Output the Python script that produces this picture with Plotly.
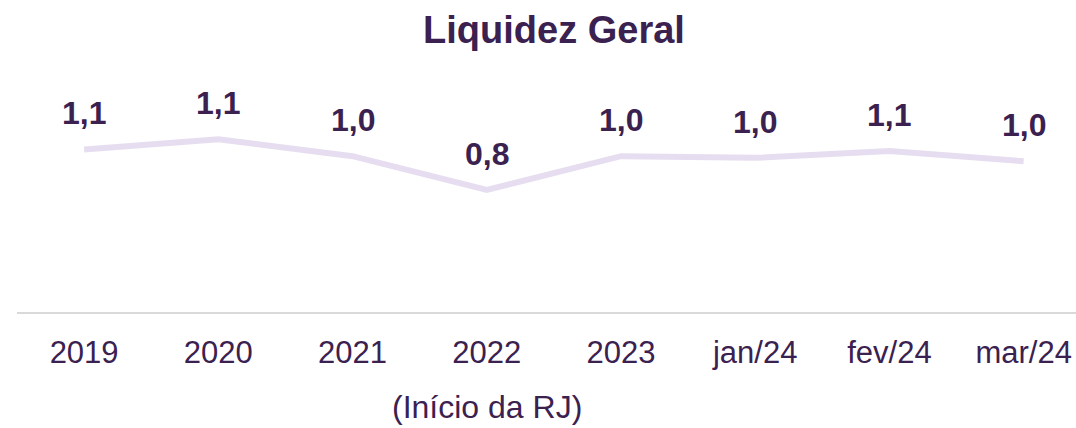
import plotly.graph_objects as go

categories = ["2019", "2020", "2021", "2022", "2023", "jan/24", "fev/24", "mar/24"]
values = [1.08, 1.14, 1.04, 0.84, 1.04, 1.03, 1.07, 1.01]
title_text = "Liquidez Geral"
note_text = "(Início da RJ)"
note_category = "2022"

PURPLE = "#3B2150"
LINE = "#E6DEF0"

fig = go.Figure()
fig.add_trace(go.Scatter(
    x=list(range(len(categories))), y=values, mode="lines",
    line=dict(color=LINE, width=6), hoverinfo="skip"))

for i, v in enumerate(values):
    fig.add_annotation(
        x=i, y=v, xref="x", yref="y", yshift=36, showarrow=False,
        text=f"{v:.1f}".replace(".", ","),
        font=dict(family="Liberation Sans, Arial", size=32, color=PURPLE, weight="bold"),
        yanchor="middle", xanchor="center")

fig.add_annotation(
    x=categories.index(note_category), y=-(407 - 312) / 252, xref="x", yref="paper",
    showarrow=False, text=note_text,
    font=dict(family="Liberation Sans, Arial", size=32, color=PURPLE),
    yanchor="middle", xanchor="center")

fig.update_layout(
    width=1076, height=428,
    margin=dict(l=17, r=0, t=60, b=116),
    paper_bgcolor="white", plot_bgcolor="white",
    showlegend=False,
    title=dict(text=title_text, x=554 / 1076, xref="container", xanchor="center",
               y=1 - 30 / 428, yref="container", yanchor="middle",
               font=dict(family="Liberation Sans, Arial", size=38, color=PURPLE, weight="bold")),
    xaxis=dict(tickmode="array", tickvals=list(range(len(categories))), ticktext=categories,
               range=[-0.5, 7.39], showgrid=False, zeroline=False,
               showline=True, linecolor="#D9D9D9", linewidth=2,
               ticks="", ticklabelstandoff=12,
               tickfont=dict(family="Liberation Sans, Arial", size=31, color=PURPLE)),
    yaxis=dict(range=[0.118, 1.609], visible=False, showgrid=False, zeroline=False),
)

fig.write_html("out.html")
